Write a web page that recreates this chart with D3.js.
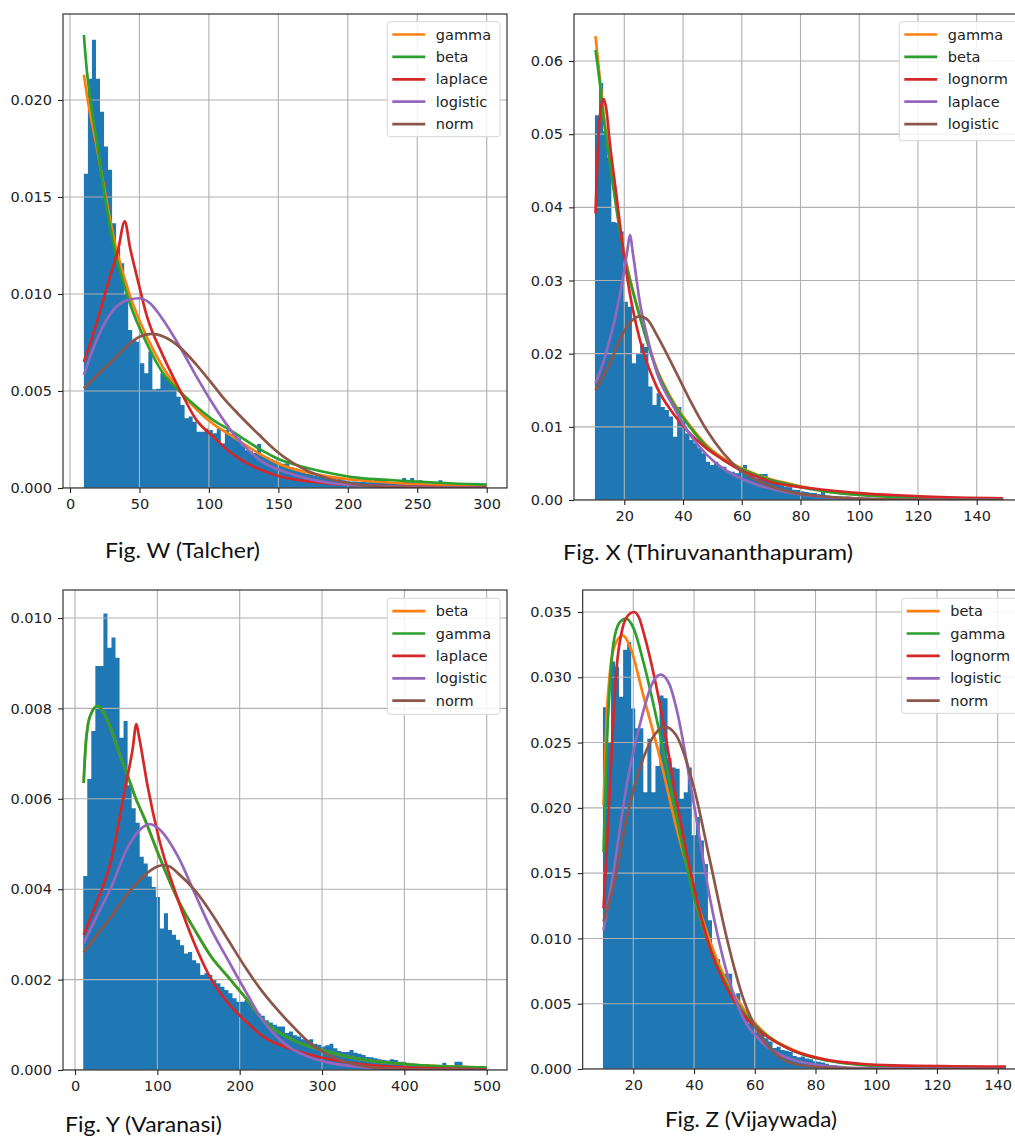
<!DOCTYPE html>
<html><head><meta charset="utf-8">
<script src="https://cdn.jsdelivr.net/npm/d3@7"></script>
<style>body{margin:0;background:#fff}svg{display:block}</style>
</head><body>
<svg id="chart" width="1015" height="1137"></svg>
<script>
// ---------- DATA (densities in units of 1e-3) ----------
const wNames = ["gamma","beta","laplace","logistic","norm"];
const xNames = ["gamma","beta","lognorm","laplace","logistic"];
const yNames = ["beta","gamma","laplace","logistic","norm"];
const zNames = ["beta","gamma","lognorm","logistic","norm"];

const wRange = [10, 300];
const xRange = [10, 150];
const yRange = [10, 500];
const zRange = [10, 143];

const wHist = [16.2,21.1,23.1,21.1,19.4,17.6,16.4,13.65,12.36,11.58,
 10.0,8.15,7.63,7.54,6.43,5.91,7.03,5.09,5.12,5.91,
 5.74,5.65,5.4,4.71,4.28,3.59,3.68,3.42,2.9,2.9,
 3.07,2.99,2.82,3.07,2.3,2.99,2.8,2.64,2.55,2.2,
 1.95,1.9,1.8,2.27,1.66,1.6,1.5,1.42,1.32,1.25,
 1.28,1.08,1.03,0.94,0.8,0.74,0.77,0.63,0.6,0.57,
 0.52,0.46,0.43,0.46,0.4,0.38,0.34,0.33,0.31,0.33,
 0.29,0.29,0.52,0.46,0.29,0.26,0.28,0.26,0.22,0.52,
 0.4,0.52,0.26,0.4,0.21,0.22,0.19,0.19,0.4,0.22,
 0.29,0.17,0.17,0.22,0.22,0.22,0.17,0.15,0.22,0.22];

const xHist = [52.6,57.0,50.4,46.8,38.0,37.9,36.7,27.1,26.4,18.7,
 20.0,21.4,20.9,15.5,13.0,14.6,12.7,12.3,11.4,8.65,
 12.7,10.9,9.1,8.2,7.74,7.06,6.4,5.24,4.8,5.24,
 4.55,4.55,4.0,3.87,3.64,4.33,4.8,3.42,3.42,2.96,
 3.55,3.55,2.5,2.3,2.35,2.0,1.8,1.75,1.4,1.35,
 1.2,1.1,1.0,0.95,0.8,1.4,0.6,0.5,0.55,0.45,
 0.4,0.45,0.35,0.3,0.35,0.25,0.3,0.2,0.25,0.2,
 0.15,0.2,0.15,0.12,0.15,0.1,0.12,0.1,0.08,0.1,
 0.08,0.06,0.08,0.05,0.06,0.05,0.04,0.05,0.04,0.03,
 0.04,0.03,0.03,0.02,0.03,0.02,0.02,0.02,0.01,0.02];

const yHist = [4.29,6.44,7.5,8.94,8.94,10.1,9.34,9.57,9.12,7.35,
 7.72,6.3,5.79,5.47,4.72,4.57,4.28,4.05,3.83,3.13,
 3.47,3.1,2.99,2.88,2.76,2.58,2.61,2.43,2.36,2.1,
 2.14,2.1,1.99,1.92,1.84,1.77,1.7,1.59,1.51,1.51,
 1.55,1.48,1.33,1.25,1.2,1.1,1.05,1.0,0.96,0.96,
 0.82,0.85,0.77,0.74,0.68,0.66,0.68,0.58,0.56,0.52,
 0.55,0.58,0.48,0.42,0.4,0.4,0.44,0.38,0.36,0.33,
 0.29,0.28,0.26,0.24,0.22,0.21,0.24,0.22,0.18,0.18,
 0.16,0.15,0.14,0.13,0.13,0.12,0.11,0.11,0.1,0.16,
 0.09,0.08,0.18,0.18,0.09,0.08,0.07,0.06,0.06,0.06];

const zHist = [27.7,25.0,31.2,30.8,28.5,32.1,32.7,27.6,26.1,26.1,
 21.2,25.3,21.2,23.2,28.6,28.4,23.8,23.1,23.0,20.7,
 21.2,23.1,17.9,19.3,17.5,15.7,11.4,8.9,8.4,7.3,
 7.3,7.3,5.6,5.8,4.3,4.0,3.5,3.6,2.8,2.7,
 2.35,2.1,1.6,1.7,1.45,1.4,1.3,1.0,0.9,0.95,
 0.8,0.75,0.6,0.55,0.5,0.4,0.3,0.28,0.25,0.2,
 0.15,0.12,0.1,0.1,0.08,0.07,0.06,0.05,0.04,0.05,
 0.03,0.03,0.02,0.02,0.02,0.02,0.01,0.01,0.01,0.01,
 0.01,0.01,0.01,0.01,0.0,0.01,0.0,0.0,0.0,0.01,
 0.0,0.0,0.0,0.0,0.0,0.0,0.0,0.0,0.0,0.01];

// fitted curves: [x, density*1e3]
const wGamma = [[10,21.3],[13.5,19.7],[19.2,17.6],[24,15.7],[31.2,13.0],[43.2,9.9],[55.2,7.8],[67.1,6.2],[79.1,5.0],[91.1,4.05],[103.1,3.3],[115,2.75],[136.7,1.75],[150,1.25],[160,1.0],[185,0.6],[208,0.4],[232,0.27],[256,0.18],[280,0.12],[300,0.08]];
const wBeta = [[10,23.35],[12,21.6],[14.4,20.2],[19.2,17.9],[24,15.5],[31.2,12.6],[43.2,9.5],[55.2,7.46],[67.1,5.9],[79.1,4.96],[91.1,4.19],[103.1,3.5],[115,2.99],[136.7,2.0],[150,1.5],[160,1.25],[185,0.8],[208,0.52],[232,0.4],[256,0.3],[280,0.22],[300,0.17]];
const wLaplace = [[10,6.5],[19.2,8.5],[28.8,10.9],[34.7,12.3],[39.4,13.75],[43.2,12.4],[49.2,10.6],[55.2,8.9],[67.1,6.8],[79.1,5.05],[91.1,3.5],[103.1,2.65],[115,1.87],[136.7,0.95],[150,0.62],[160.7,0.45],[185,0.24],[230,0.1],[300,0.03]];
const wLogistic = [[10,5.83],[19.2,7.63],[31.2,9.18],[40,9.65],[49.5,9.78],[58,9.5],[67.1,8.66],[79.1,7.28],[91.1,5.74],[103.1,4.3],[115,3.05],[125,2.2],[136.7,1.44],[148,1.0],[160.7,0.7],[175,0.42],[200,0.17],[250,0.04],[300,0.01]];
const wNorm = [[10,5.14],[20,5.85],[31.2,6.6],[43.2,7.46],[50,7.8],[58.8,7.94],[68,7.78],[79.1,7.25],[91.1,6.35],[103.1,5.3],[111.5,4.55],[122,3.75],[135.5,2.78],[147,2.0],[159.5,1.33],[172,0.85],[183.5,0.54],[207,0.18],[230,0.05],[260,0.01],[300,0]];

const xGamma = [[10.2,63.4],[11.7,57.5],[12.9,53],[15.1,46.5],[17.4,40],[19.6,34.5],[21.9,30.3],[25.3,25.2],[31,18],[36.7,13.4],[42.3,10.2],[48,7.5],[53.7,5.7],[59.4,4.45],[65,3.5],[69.6,2.85],[77.5,2.1],[88.8,1.2],[100,0.72],[111.4,0.45],[122.7,0.3],[149,0.12]];
const xBeta = [[10.2,61.5],[11.7,56.9],[12.9,52.4],[15.1,46.0],[17.4,39.6],[19.6,34.2],[21.9,30.1],[25.3,25.0],[31,17.8],[36.7,13.2],[42.3,10.0],[48,7.3],[53.7,5.5],[59.4,4.3],[65,3.4],[69.6,2.75],[77.5,2.0],[88.8,1.15],[100,0.68],[111.4,0.42],[122.7,0.28],[149,0.12]];
const xLognorm = [[10.2,39.2],[10.8,46],[11.5,51.5],[12.2,54],[13,54.8],[13.8,53.6],[15.1,48.7],[17.4,41.4],[19.6,34.2],[21.9,28.2],[25.3,21.9],[31,15.5],[36.7,11.8],[42.3,9.1],[48,7.06],[53.7,5.5],[59.4,4.1],[65,3.2],[69.6,2.5],[77.5,1.9],[88.8,1.37],[100,0.95],[111.4,0.68],[122.7,0.45],[149,0.23]];
const xLaplace = [[10.2,16.0],[13,19],[15.1,22],[17.4,25.8],[19.6,30.5],[21,34],[21.9,36.2],[23,33.5],[25.3,27],[28,22],[31,17.5],[36.7,12.8],[42.3,9.0],[48,6.2],[53.7,4.3],[59.4,3.0],[65,2.1],[77.5,0.9],[88.8,0.4],[100,0.2],[120,0.05],[149,0.01]];
const xLogistic = [[10.2,15.0],[15.1,18.7],[19.6,22.8],[22.5,24.5],[25.3,25.1],[28,24.6],[31,22.6],[36.7,18.2],[42.3,13.7],[48,9.6],[53.7,6.4],[59.4,4.1],[65,2.7],[69.6,1.9],[77.5,1.0],[88.8,0.45],[100,0.2],[120,0.04],[149,0.01]];

const yBeta = [[10.5,6.35],[13,7.2],[15.8,7.65],[20,7.9],[27.1,8.05],[35,7.9],[44.1,7.52],[54,7.0],[64.4,6.49],[74,6.0],[84.7,5.55],[100.9,4.79],[125.2,3.76],[145.4,3.1],[165.7,2.5],[185.9,2.06],[206.2,1.62],[228,1.12],[265,0.66],[306,0.41],[346,0.24],[387,0.15],[427,0.1],[500,0.06]];
const yGamma = [[10.5,6.35],[13,7.2],[15.8,7.65],[20,7.9],[27.1,8.05],[35,7.9],[44.1,7.52],[54,7.0],[64.4,6.49],[74,6.0],[84.7,5.55],[100.9,4.79],[125.2,3.76],[145.4,3.1],[165.7,2.5],[185.9,2.06],[206.2,1.62],[228,1.12],[265,0.66],[306,0.41],[346,0.24],[387,0.15],[427,0.1],[500,0.06]];
const yLaplace = [[10.5,2.99],[25,3.65],[44.1,4.65],[60,6.15],[70,7.1],[74.5,7.65],[78,7.35],[88,6.3],[100.9,5.2],[125.2,3.76],[145,2.8],[165.7,2.0],[185,1.5],[206,1.1],[230,0.72],[265,0.45],[306,0.25],[346,0.13],[387,0.07],[427,0.04],[500,0.015]];
const yLogistic = [[10.5,2.8],[25,3.35],[44.1,4.05],[64.4,4.94],[78,5.3],[90.7,5.44],[104,5.3],[125.2,4.72],[145.4,3.91],[165.7,3.1],[185.9,2.43],[206.2,1.77],[228,1.1],[250,0.65],[265,0.45],[290,0.25],[306,0.17],[346,0.07],[400,0.02],[500,0.0]];
const yNorm = [[10.5,2.6],[25,2.95],[44.1,3.39],[64.4,3.91],[84.7,4.31],[100,4.5],[107,4.53],[115,4.5],[125.2,4.35],[145.4,3.98],[165.7,3.47],[185.9,2.88],[206.2,2.29],[224.8,1.8],[245,1.35],[265.3,0.95],[285,0.6],[305.8,0.35],[325,0.2],[346,0.1],[380,0.03],[420,0.01],[500,0.0]];

const zBeta = [[10.2,20.2],[11.2,26.9],[12.3,30.4],[14,32.5],[16.5,33.2],[19,32.3],[23.3,28.6],[28.8,23.8],[34.3,18.4],[39.8,13.8],[45.3,9.75],[50.8,6.7],[56.2,4.65],[61.7,3.1],[72.7,1.45],[83.7,0.69],[94.7,0.36],[105.6,0.23],[142.7,0.12]];
const zGamma = [[10.2,16.6],[11.2,24.3],[12.3,29.5],[13.4,32.5],[15.5,34.2],[17.6,34.5],[20,33.8],[23.3,31.2],[28.8,25.6],[34.3,19.2],[39.8,13.3],[45.3,9.24],[50.8,6.43],[56.2,4.39],[61.7,3.0],[72.7,1.4],[83.7,0.65],[94.7,0.32],[105.6,0.18],[142.7,0.08]];
const zLognorm = [[10.2,12.3],[11.3,17],[12.3,21.7],[14.5,30.7],[16.5,33.8],[18.5,34.8],[20.2,35.0],[22,34.5],[23.3,33.5],[28.8,27.9],[34.3,20.5],[39.8,14.1],[45.3,9.24],[50.8,6.2],[56.2,4.2],[61.7,2.9],[72.7,1.4],[83.7,0.7],[94.7,0.4],[105.6,0.28],[142.7,0.18]];
const zLogistic = [[10.2,10.6],[13.4,15],[17.8,21.7],[23.3,27.4],[26,29.4],[29,30.2],[32,29.4],[34.3,27.5],[39.8,20.5],[45.3,13],[50.8,7.4],[56.2,3.9],[61.7,2.2],[72.7,0.7],[83.7,0.22],[95,0.07],[142.7,0.0]];
const zNorm = [[10.2,11.3],[13.5,14],[17.8,19.2],[23.3,23.8],[27,25.6],[30.4,26.2],[34,25.6],[39.8,21.7],[45.3,15.9],[50.8,10.0],[56.2,5.4],[61.7,2.6],[67.2,1.1],[72.7,0.4],[83.7,0.1],[100,0.0],[142.7,0.0]];

const wXTicks = [0,50,100,150,200,250,300];
const wYTicks = [0,0.005,0.010,0.015,0.020];
const xXTicks = [20,40,60,80,100,120,140];
const xYTicks = [0,0.01,0.02,0.03,0.04,0.05,0.06];
const yXTicks = [0,100,200,300,400,500];
const yYTicks = [0,0.002,0.004,0.006,0.008,0.010];
const zXTicks = [20,40,60,80,100,120,140];
const zYTicks = [0,0.005,0.010,0.015,0.020,0.025,0.030,0.035];

const captions = ["Fig. W (Talcher)","Fig. X (Thiruvananthapuram)","Fig. Y (Varanasi)","Fig. Z (Vijaywada)"];

// ---------- DRAW ----------
const COLORS = ["#ff7f0e","#2ca02c","#d62728","#9467bd","#8c564b"];
const BAR = "#1f77b4";
const svg = d3.select("#chart");
const FONT = "DejaVu Sans, Verdana, sans-serif";

const panels = [
  {id:"w", box:{l:63,t:14,r:507,b:488}, xc:[0,70,300,486.7], yc:[0,488,0.02,100],
   xt:wXTicks, yt:wYTicks, yf:".3f", hist:wHist, range:wRange, names:wNames,
   curves:[wGamma,wBeta,wLaplace,wLogistic,wNorm], leg:{x:387.3,y:21.7,w:112.7,h:115},
   cap:{t:captions[0],x:105,y:558,len:155}},
  {id:"x", box:{l:574,t:14,r:1027,b:500}, xc:[20,624.3,140,976.7], yc:[0,500,0.06,61],
   xt:xXTicks, yt:xYTicks, yf:".2f", hist:xHist, range:xRange, names:xNames,
   curves:[xGamma,xBeta,xLognorm,xLaplace,xLogistic], leg:{x:899.3,y:21.7,w:125,h:119},
   cap:{t:captions[1],x:563,y:560,len:290}},
  {id:"y", box:{l:63,t:590,r:507,b:1070}, xc:[0,75,500,486.7], yc:[0,1070,0.01,618],
   xt:yXTicks, yt:yYTicks, yf:".3f", hist:yHist, range:yRange, names:yNames,
   curves:[yBeta,yGamma,yLaplace,yLogistic,yNorm], leg:{x:387.3,y:598.3,w:112.7,h:116},
   cap:{t:captions[2],x:65,y:1131.5,len:157}},
  {id:"z", box:{l:582.7,t:590,r:1027,b:1069}, xc:[20,633.3,140,997.7], yc:[0,1069,0.035,612],
   xt:zXTicks, yt:zYTicks, yf:".3f", hist:zHist, range:zRange, names:zNames,
   curves:[zBeta,zGamma,zLognorm,zLogistic,zNorm], leg:{x:901.7,y:598.3,w:125,h:115},
   cap:{t:captions[3],x:665,y:1127,len:172}}
];

panels.forEach(p => {
  const b = p.box;
  const xs = d3.scaleLinear().domain([p.xc[0],p.xc[2]]).range([p.xc[1],p.xc[3]]);
  const ys = d3.scaleLinear().domain([p.yc[0],p.yc[2]]).range([p.yc[1],p.yc[3]]);
  const g = svg.append("g");
  const clipId = "clip-"+p.id;
  svg.append("defs").append("clipPath").attr("id",clipId)
    .append("rect").attr("x",b.l).attr("y",b.t).attr("width",b.r-b.l).attr("height",b.b-b.t);
  const inner = g.append("g").attr("clip-path",`url(#${clipId})`);

  // histogram as one stepped area (bars share edges, no seams)
  const n = p.hist.length, w = (p.range[1]-p.range[0])/n;
  const steps = d3.range(n+1).map(i => ({x: p.range[0]+i*w, v: p.hist[Math.min(i,n-1)]}));
  const area = d3.area().x(d=>xs(d.x)).y0(ys(0)).y1(d=>ys(d.v/1000)).curve(d3.curveStepAfter);
  inner.append("path").attr("d",area(steps)).attr("fill",BAR);

  // grid
  const grid = inner.append("g").attr("stroke","#b0b0b0").attr("stroke-width",1.1);
  grid.selectAll(".gx").data(p.xt).join("line")
    .attr("x1",d=>xs(d)).attr("x2",d=>xs(d)).attr("y1",b.t).attr("y2",b.b);
  grid.selectAll(".gy").data(p.yt).join("line")
    .attr("y1",d=>ys(d)).attr("y2",d=>ys(d)).attr("x1",b.l).attr("x2",b.r);

  // curves
  const line = d3.line().x(d=>xs(d[0])).y(d=>ys(d[1]/1000)).curve(d3.curveMonotoneX);
  p.curves.forEach((c,i)=>{
    inner.append("path").attr("d",line(c)).attr("fill","none")
      .attr("stroke",COLORS[i]).attr("stroke-width",2.7).attr("stroke-linejoin","round");
  });

  // spines
  g.append("rect").attr("x",b.l).attr("y",b.t).attr("width",b.r-b.l).attr("height",b.b-b.t)
    .attr("fill","none").attr("stroke","#222").attr("stroke-width",1.1);

  // axes
  const xa = g.append("g").attr("transform",`translate(0,${b.b})`)
    .call(d3.axisBottom(xs).tickValues(p.xt).tickFormat(d3.format("d")).tickSize(5).tickPadding(6));
  const ya = g.append("g").attr("transform",`translate(${b.l},0)`)
    .call(d3.axisLeft(ys).tickValues(p.yt).tickFormat(d3.format(p.yf)).tickSize(5).tickPadding(6));
  [xa,ya].forEach(a=>{
    a.select(".domain").remove();
    a.selectAll("line").attr("stroke","#222").attr("stroke-width",1.1);
    a.selectAll("text").attr("font-family",FONT).attr("font-size","14.5px").attr("fill","#222");
  });

  // legend
  const L = p.leg;
  const lg = g.append("g");
  lg.append("rect").attr("x",L.x).attr("y",L.y).attr("width",L.w).attr("height",L.h)
    .attr("rx",3).attr("fill","#fff").attr("fill-opacity",0.85).attr("stroke","#d6d6d6");
  p.names.forEach((nm,i)=>{
    const yy = L.y + 12.8 + i*22.4;
    lg.append("line").attr("x1",L.x+5).attr("x2",L.x+38).attr("y1",yy).attr("y2",yy)
      .attr("stroke",COLORS[i]).attr("stroke-width",2.7);
    lg.append("text").attr("x",L.x+48.5).attr("y",yy).attr("dy","0.35em")
      .attr("font-family",FONT).attr("font-size","14.5px").attr("fill","#222").text(nm);
  });

  // caption
  svg.append("text").attr("x",p.cap.x).attr("y",p.cap.y)
    .attr("font-family","Lato, 'Open Sans', sans-serif").attr("font-size","22px")
    .attr("textLength",p.cap.len).attr("lengthAdjust","spacingAndGlyphs")
    .attr("fill","#111").text(p.cap.t);
});
</script>
</body></html>
